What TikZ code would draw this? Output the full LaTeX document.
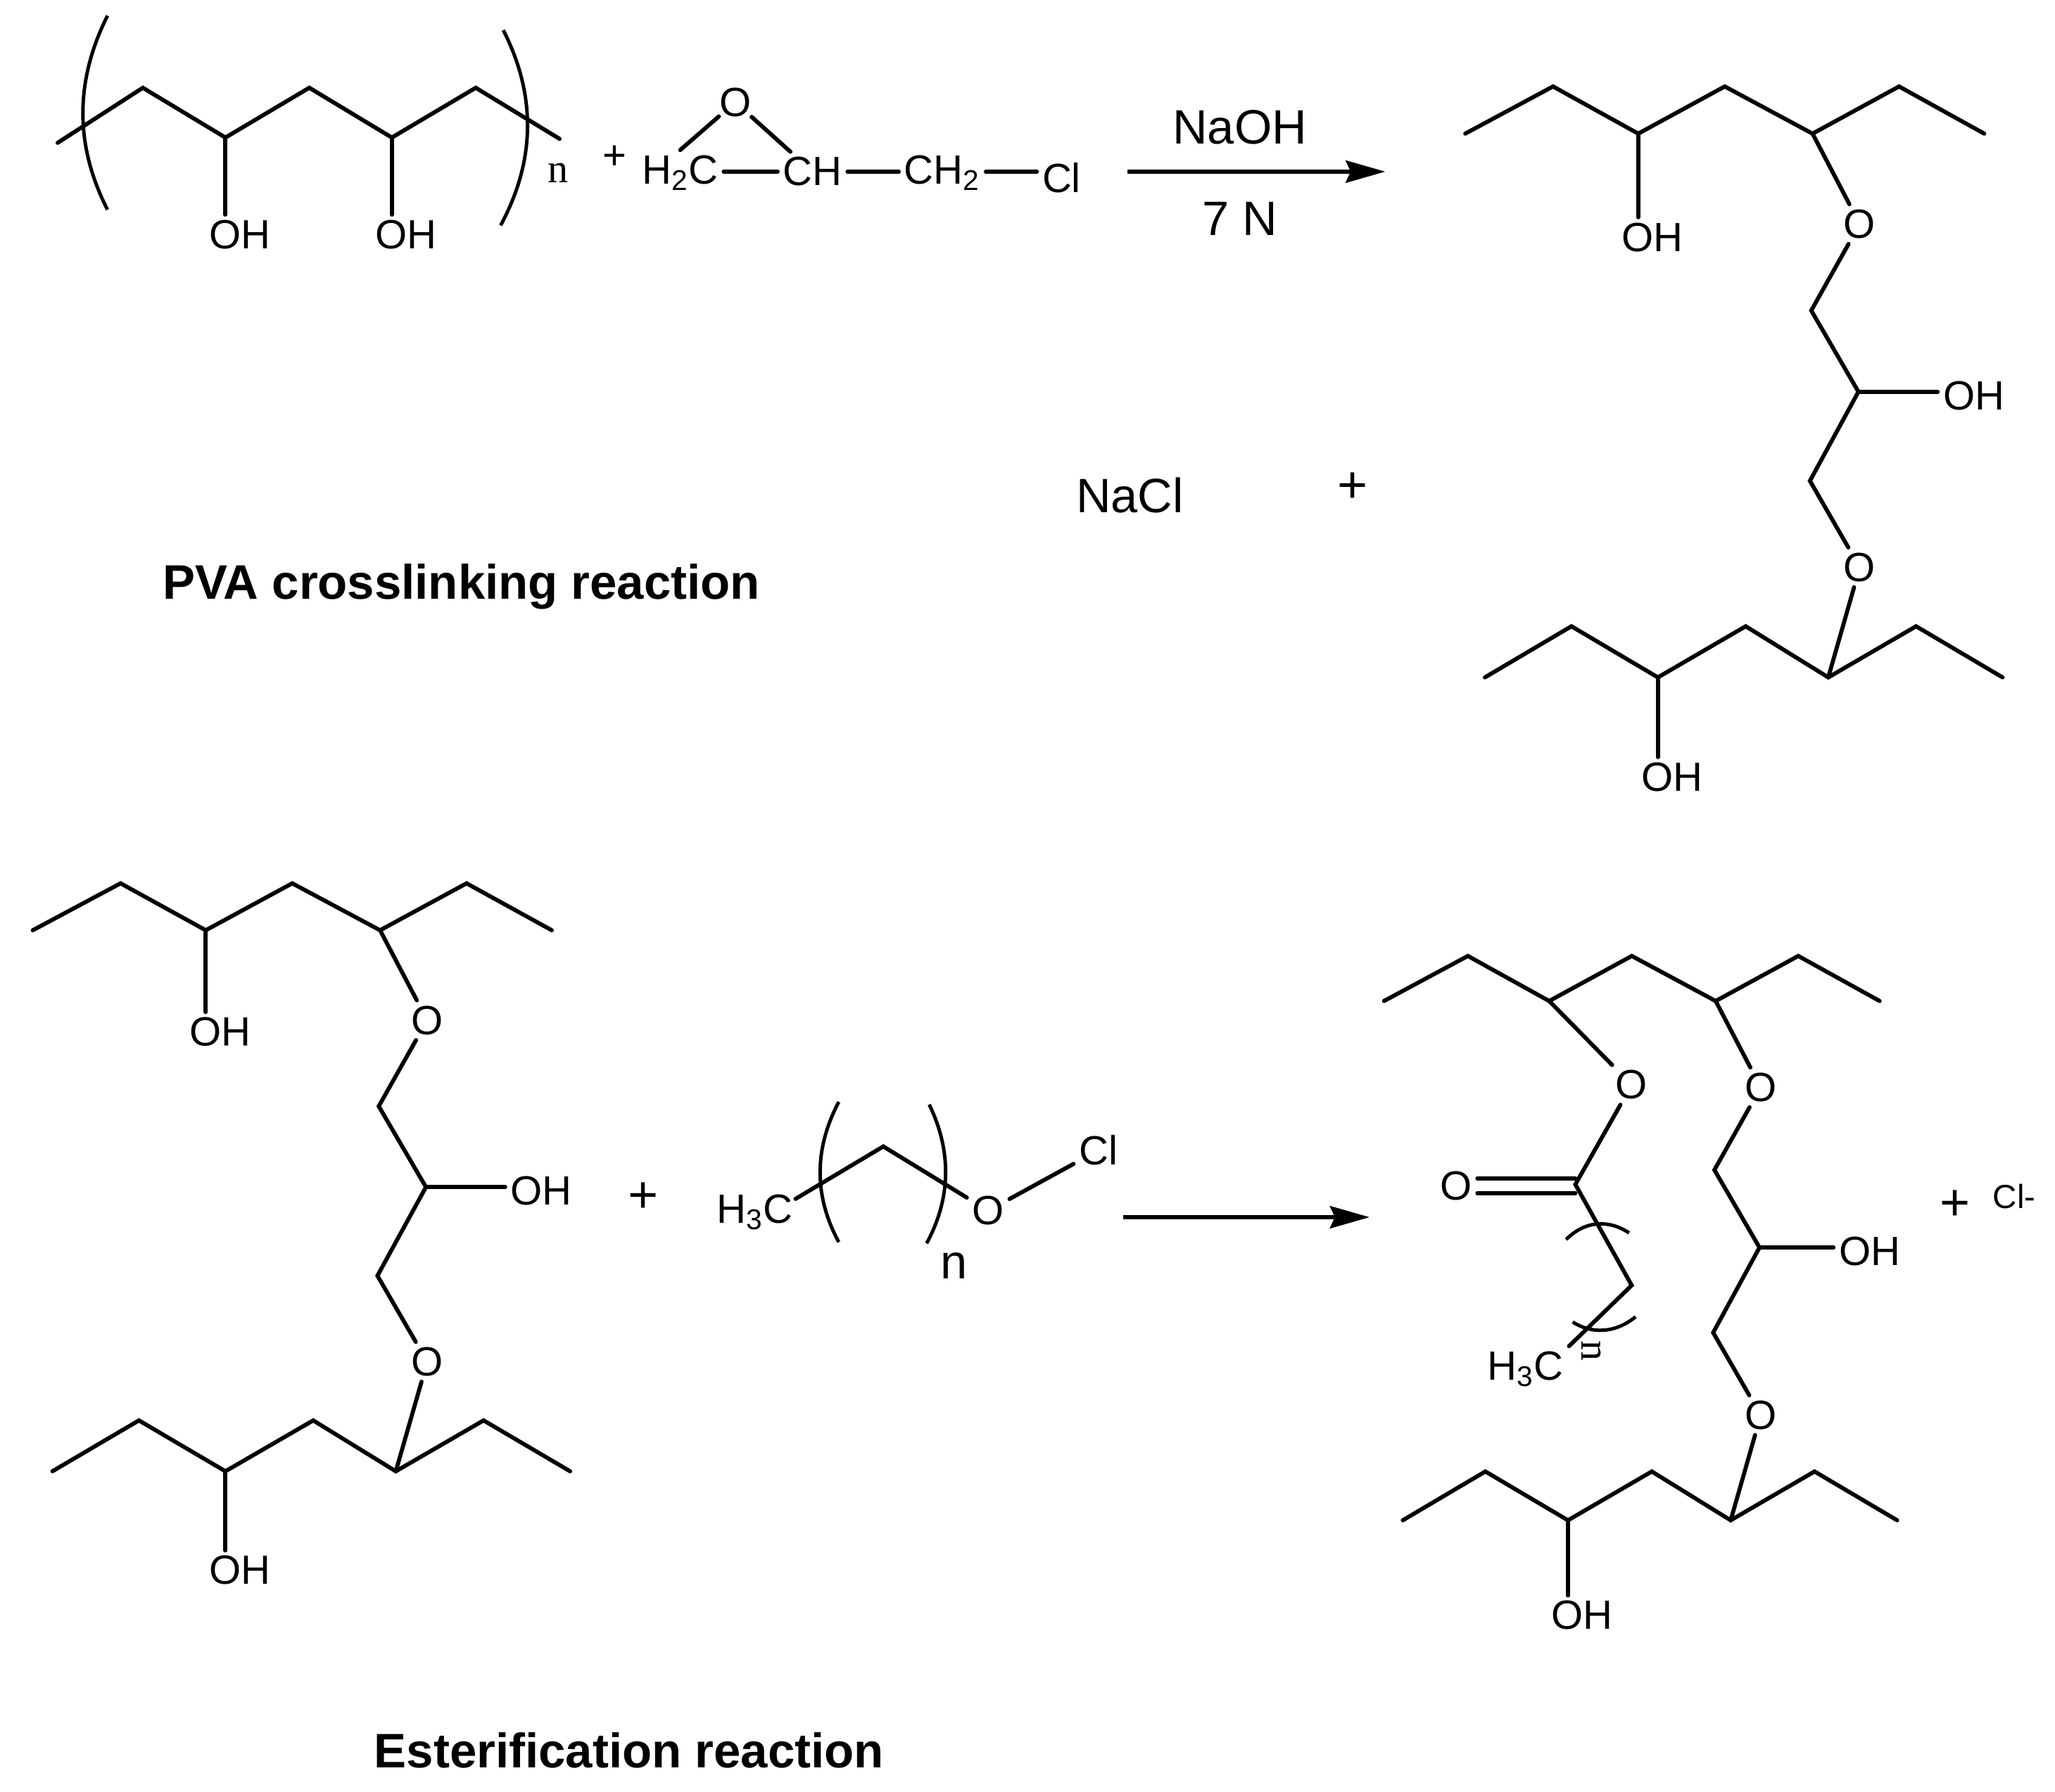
\documentclass[tikz,border=0pt]{standalone}
\usepackage{fontspec}
\setmainfont{Liberation Sans}
\newfontfamily\timesfont{Liberation Serif}
\usetikzlibrary{arrows.meta}

\tikzset{
	atom/.style={inner sep=2pt, font=\fontsize{16.5}{18}\selectfont},
	bond/.style={line width=1.65pt, line cap=round},
	paren/.style={line width=1.4pt},
	caption/.style={font=\bfseries\fontsize{19.6}{22}\selectfont},
	bigtext/.style={inner sep=1pt, font=\fontsize{19.5}{22}\selectfont},
	plus/.style={inner sep=1pt, font=\fontsize{21}{22}\selectfont},
	repeats/.style={inner sep=0pt, font=\timesfont\fontsize{16.5}{18}\selectfont},
	react/.style={line width=1.6pt, -{Stealth[length=16pt, width=9pt, inset=2pt]}}
}

% two chains joined over the O-CH2-CH(OH)-CH2-O bridge
\newcommand{\linkedchains}{
	\coordinate (u1) at (0,0);
	\coordinate (u2) at (67,-36);
	\coordinate (u3) at (132,0);
	\coordinate (u4) at (198,-36);
	\coordinate (u5) at (265,0);
	\coordinate (u6) at (331,-36);
	\coordinate (u7) at (396,0);
	\coordinate (b1) at (264,135);
	\coordinate (b2) at (300,197);
	\coordinate (b3) at (263,265);
	\coordinate (l1) at (15,415);
	\coordinate (l2) at (81,376);
	\coordinate (l3) at (147,415);
	\coordinate (l4) at (214,376);
	\coordinate (l5) at (277,415);
	\coordinate (l6) at (344,376);
	\coordinate (l7) at (410,415);
	\node [atom] (oa) at (301,69) {O};
	\node [atom] (ob) at (301,331) {O};
	\node [atom] (ohb) at (388,200) {OH};
	\node [atom] (ohl) at (158,491) {OH};
	\draw [bond] (u1) -- (u2) -- (u3) -- (u4) -- (u5) -- (u6) -- (u7);
	\draw [bond] (l1) -- (l2) -- (l3) -- (l4) -- (l5) -- (l6) -- (l7);
	\draw [bond] (u5) -- (oa);
	\draw [bond] (oa) -- (b1) -- (b2) -- (b3) -- (ob);
	\draw [bond] (ob) -- (l5);
	\draw [bond] (b2) -- (b2 -| ohb.west);
	\draw [bond] (l3) -- (l3 |- ohl.north);
}

\begin{document}
\begin{tikzpicture}[x=0.01862cm, y=-0.01862cm]
	\useasboundingbox (0,0) rectangle (1568,1367.3);

	% PVA repeat unit
	\coordinate (p1) at (44,109);
	\coordinate (p2) at (109,67);
	\coordinate (p3) at (172,105);
	\coordinate (p4) at (236,67);
	\coordinate (p5) at (299,105);
	\coordinate (p6) at (363,67);
	\coordinate (p7) at (427,106);
	\node [atom] (pa) at (183,179) {OH};
	\node [atom] (pb) at (310,179) {OH};
	\draw [bond] (p1) -- (p2) -- (p3) -- (p4) -- (p5) -- (p6) -- (p7);
	\draw [bond] (p3) -- (p3 |- pa.north);
	\draw [bond] (p5) -- (p5 |- pb.north);
	\draw [paren] (82,12) .. controls (57,62) and (57,111) .. (82,160);
	\draw [paren] (384,23) .. controls (409,72) and (409,122) .. (382,172);
	\node [repeats] (pn) at (426,132) {n};
	\node [atom] (plusa) at (469,120) {+};

	% epichlorohydrin
	\node [atom, inner sep=0pt] (eo) at (561,78) {O};
	\node [atom] (eh) at (519,132) {H\textsubscript{2}C};
	\node [atom] (ec) at (620,131) {CH};
	\node [atom] (em) at (719,132) {CH\textsubscript{2}};
	\node [atom] (ecl) at (810,136) {Cl};
	\draw [bond] (eo) -- (eh.north);
	\draw [bond] (eo) -- (ec);
	\draw [bond] (eh.east |- ec) -- (ec);
	\draw [bond] (ec) -- (em.west |- ec);
	\draw [bond] (em.east |- ec) -- (ecl.west |- ec);

	\coordinate (ra) at (860,131);
	\coordinate (rb) at (1057,131);
	\draw [react] (ra) -- (rb);
	\node [bigtext] (naoh) at (946,97) {NaOH};
	\node [bigtext] (sevenn) at (946,167) {7 N};
	\node [bigtext] (nacl) at (862,378) {NaCl};
	\node [plus] (plusb) at (1032,372) {+};
	\node [caption] (capa) at (352,448) {PVA crosslinking reaction};

	% crosslinked product, upper right
	\begin{scope}[shift={(1118,102)}, name prefix=top-]
		\linkedchains
		\node [atom] (ohu) at (143,79) {OH};
		\draw [bond] (u3) -- (u3 |- ohu.north);
	\end{scope}

	% same product as reactant
	\begin{scope}[shift={(25,710)}, yscale=0.995, name prefix=mid-]
		\linkedchains
		\node [atom] (ohu) at (143,78) {OH};
		\draw [bond] (u3) -- (u3 |- ohu.north);
	\end{scope}

	\node [plus] (plusc) at (491,914) {+};

	% acid chloride
	\node [atom] (ah) at (576,925) {H\textsubscript{3}C};
	\coordinate (aa) at (674,875);
	\coordinate (ab) at (607,915);
	\node [atom] (ao) at (754,924) {O};
	\node [atom] (acl) at (838,878) {Cl};
	\node [bigtext] (an) at (728,966) {n};
	\draw [bond] (ab) -- (aa) -- (ao);
	\draw [bond] (ao) -- (acl);
	\draw [paren] (640,841) .. controls (621,877) and (621,913) .. (640,948);
	\draw [paren] (709,843) .. controls (726,878) and (726,914) .. (707,949);

	\coordinate (rc) at (857,929);
	\coordinate (rd) at (1045,929);
	\draw [react] (rc) -- (rd);

	% esterified product
	\begin{scope}[shift={(1056,764)}, scale=0.955, name prefix=low-]
		\linkedchains
	\end{scope}
	\node [atom] (xo) at (1245,828) {O};
	\node [atom] (xd) at (1111,905) {O};
	\coordinate (xc) at (1202,904);
	\coordinate (xe) at (1245,981);
	\node [atom] (xh) at (1164,1045) {H\textsubscript{3}C};
	\draw [bond] (low-u3) -- (xo);
	\draw [bond] (xo) -- (xc) -- (xe) -- (xh.north east);
	\draw [bond] ([yshift=-3pt]xd.east) -- ([yshift=-3pt]xd.east -| xc);
	\draw [bond] ([yshift=3pt]xd.east) -- ([yshift=3pt]xd.east -| xc);
	\draw [paren] (1195,946) .. controls (1210,931) and (1228,931) .. (1243,941);
	\draw [paren] (1200,1009) .. controls (1214,1018) and (1232,1018) .. (1248,1005);
	\node [repeats, rotate=-90] (xn) at (1214,1031) {n};
	\node [plus] (plusd) at (1492,920) {+};
	\node [inner sep=1pt, font=\fontsize{13.5}{15}\selectfont] (clm) at (1537,913) {Cl-};

	\node [caption] (capb) at (480,1336) {Esterification reaction};
\end{tikzpicture}
\end{document}
